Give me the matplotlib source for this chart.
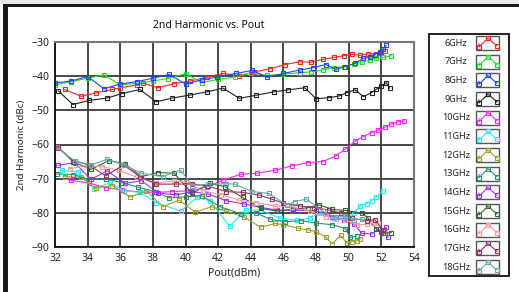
import matplotlib
matplotlib.use("Agg")
import matplotlib.pyplot as plt
from matplotlib.patches import Rectangle
from matplotlib.lines import Line2D

plt.rcParams['font.family'] = ['Noto Sans', 'DejaVu Sans']

labels = ["6GHz", "7GHz", "8GHz", "9GHz", "10GHz", "11GHz", "12GHz",
          "13GHz", "14GHz", "15GHz", "16GHz", "17GHz", "18GHz"]
colors = ["#ff2020", "#22dd22", "#2244ff", "#222222", "#ff22ff", "#22eeff",
          "#a0a030", "#22996a", "#9933ff", "#336633", "#ff9999", "#993366", "#66aaaa"]

x6 = [32.6, 33.6, 34.5, 35.5, 36.0, 37.0, 37.4, 38.3, 39.3, 40.3, 41.3, 42.3, 43.3, 44.2,
      45.2, 46.1, 47.0, 47.7, 48.4, 49.1, 49.7, 50.2, 50.7, 51.2, 51.7, 52.0, 52.2]
y6 = [-43.9, -45.9, -44.9, -43.9, -43.4, -42.6, -42.0, -43.4, -42.2, -41.4, -40.3, -39.2, -39.9,
      -38.8, -37.8, -36.6, -35.8, -35.9, -35.1, -34.5, -34.0, -33.6, -33.9, -33.5, -33.4, -33.1, -32.7]
x7 = [32.0, 33.0, 34.0, 35.0, 36.0, 37.0, 38.0, 38.9, 40.0, 41.0, 42.0, 43.0, 44.0, 45.0, 46.0,
      47.0, 47.7, 48.4, 49.1, 49.7, 50.3, 50.8, 51.3, 51.7, 52.1, 52.6]
y7 = [-42.6, -41.6, -40.6, -39.6, -42.6, -42.1, -41.4, -40.7, -39.3, -41.9, -40.9, -40.3, -39.0,
      -39.8, -39.4, -39.0, -38.7, -38.2, -37.5, -37.2, -36.4, -35.9, -35.3, -34.7, -34.5, -34.0]
x8 = [32.0, 33.0, 34.0, 35.0, 36.0, 37.0, 38.0, 39.0, 40.0, 41.0, 41.9, 43.1, 44.1, 45.0, 46.0,
      47.0, 47.8, 48.6, 49.2, 49.8, 50.4, 50.9, 51.3, 51.6, 51.9, 52.1, 52.3]
y8 = [-42.0, -41.4, -40.1, -43.7, -42.3, -41.6, -40.6, -39.5, -42.3, -41.1, -40.3, -39.2, -38.3,
      -40.3, -39.2, -38.2, -37.5, -36.6, -38.0, -37.2, -36.2, -34.8, -34.5, -33.7, -32.8, -32.1, -31.0]
x9 = [32.2, 33.1, 34.1, 35.2, 36.1, 37.2, 38.2, 39.2, 40.3, 41.3, 42.3, 43.3, 44.3, 45.4, 46.3,
      47.3, 48.0, 48.8, 49.4, 49.9, 50.4, 50.9, 51.4, 51.7, 52.0, 52.3, 52.5]
y9 = [-44.3, -48.3, -47.1, -46.4, -45.1, -43.9, -47.5, -46.4, -45.5, -44.6, -43.5, -46.5, -45.6,
      -44.6, -44.0, -43.4, -46.6, -46.3, -45.8, -44.8, -44.0, -46.0, -44.8, -43.8, -42.9, -41.9, -43.5]
x10 = [33.0, 34.1, 35.1, 36.1, 37.2, 38.2, 39.2, 40.3, 41.3, 42.3, 43.4, 44.4, 45.5, 46.5,
       47.5, 48.4, 49.2, 49.8, 50.4, 50.9, 51.4, 51.8, 52.2, 52.6, 53.0, 53.4]
y10 = [-70.5, -71.3, -72.6, -73.3, -73.9, -74.0, -73.8, -73.5, -72.3, -70.4, -68.7, -68.4, -67.5,
       -66.3, -65.3, -65.0, -63.4, -61.3, -59.0, -57.7, -56.5, -55.8, -55.0, -54.0, -53.4, -53.1]
x11 = [32.4, 33.4, 34.4, 35.4, 36.2, 37.2, 38.2, 39.7, 40.7, 41.5, 42.7, 43.7, 44.6, 45.8, 46.8,
       47.6, 48.2, 49.1, 49.8, 50.3, 50.7, 51.1, 51.4, 51.7, 52.1]
y11 = [-67.6, -68.0, -73.0, -71.1, -73.5, -74.0, -77.0, -79.5, -75.5, -76.5, -83.9, -79.2, -79.2,
       -81.6, -82.1, -81.6, -80.1, -81.6, -81.9, -80.1, -78.0, -77.4, -76.4, -75.3, -73.6]
x12 = [32.6, 33.6, 34.5, 35.5, 36.6, 37.6, 38.6, 39.6, 40.6, 41.6, 42.5, 43.6, 44.6, 45.5, 46.0,
       46.9, 47.5, 48.0, 48.6, 49.0, 49.5, 49.9, 50.2, 50.5, 50.7]
y12 = [-69.4, -69.6, -72.8, -72.0, -75.4, -73.5, -78.2, -76.3, -79.8, -78.2, -79.5, -81.3, -84.2,
       -83.1, -83.5, -84.5, -85.0, -85.5, -87.2, -89.1, -86.6, -88.9, -88.4, -88.2, -87.7]
x13 = [32.1, 33.1, 34.1, 35.1, 36.1, 37.1, 38.1, 39.0, 40.0, 41.0, 42.1, 43.4, 44.3, 45.2, 46.1,
       47.1, 48.0, 49.0, 49.8, 50.1, 50.5]
y13 = [-68.6, -68.8, -70.2, -70.0, -71.2, -72.5, -73.8, -75.6, -75.3, -75.0, -78.2, -80.3, -80.0,
       -81.9, -82.6, -82.3, -83.0, -83.5, -84.6, -87.2, -86.8]
x14 = [32.2, 33.2, 34.2, 35.2, 36.3, 37.3, 38.3, 39.4, 40.4, 41.4, 42.5, 43.6, 44.6, 45.6, 46.6,
       48.0, 49.0, 49.7, 50.3, 50.8, 51.4, 51.8, 52.0, 52.3, 52.4]
y14 = [-66.1, -65.3, -70.2, -67.7, -71.4, -70.6, -74.1, -74.8, -73.8, -74.5, -76.5, -77.4, -78.4,
       -79.2, -79.2, -79.5, -81.1, -82.0, -83.3, -86.0, -86.2, -84.8, -85.5, -84.2, -87.2]
x15 = [32.2, 33.1, 34.2, 35.3, 36.3, 37.3, 38.3, 39.3, 40.4, 41.5, 42.4, 43.5, 44.6, 45.6, 46.6,
       47.5, 48.2, 49.0, 49.8, 50.8, 51.2, 51.7, 52.1, 52.6]
y15 = [-60.8, -65.0, -67.3, -64.7, -65.7, -69.4, -68.2, -68.4, -74.3, -71.4, -72.3, -75.5, -78.7,
       -79.5, -79.0, -78.5, -77.7, -79.0, -79.3, -80.1, -81.6, -84.8, -86.0, -85.8]
x16 = [32.9, 34.0, 34.9, 35.9, 37.0, 38.2, 39.3, 40.0, 41.1, 42.2, 43.3, 44.3, 45.5, 46.5, 47.6,
       48.6, 49.2, 49.8, 50.5, 51.1, 51.5, 51.8]
y16 = [-67.1, -66.1, -66.5, -67.5, -69.6, -71.3, -70.7, -71.0, -73.6, -74.7, -76.3, -77.0, -78.0,
       -78.2, -79.5, -81.1, -81.8, -82.0, -83.6, -83.3, -83.0, -82.9]
x17 = [32.2, 33.1, 34.1, 35.1, 36.2, 37.2, 38.2, 39.4, 40.4, 41.4, 42.5, 43.5, 44.5, 45.3, 46.0,
       47.0, 47.9, 48.8, 49.5, 50.2, 51.1, 51.6, 52.1]
y17 = [-61.0, -64.7, -66.0, -69.2, -66.0, -69.4, -71.6, -71.6, -71.5, -72.2, -73.8, -74.0, -74.8,
       -76.0, -77.2, -78.0, -78.5, -79.2, -80.0, -81.6, -82.3, -82.0, -85.0]
x18 = [32.1, 33.2, 34.2, 35.2, 36.2, 37.3, 38.6, 39.7, 40.4, 41.4, 42.5, 43.0, 44.1, 45.1, 46.2,
       46.7, 47.4, 48.4, 49.2, 49.8, 50.3, 50.8]
y18 = [-60.8, -64.8, -66.0, -64.3, -66.0, -68.4, -69.4, -67.5, -72.0, -71.6, -71.5, -71.6, -73.8,
       -74.3, -77.7, -76.7, -76.0, -79.5, -81.3, -81.0, -82.1, -81.8]

series_x = [x6, x7, x8, x9, x10, x11, x12, x13, x14, x15, x16, x17, x18]
series_y = [y6, y7, y8, y9, y10, y11, y12, y13, y14, y15, y16, y17, y18]

xticks = [32, 34, 36, 38, 40, 42, 44, 46, 48, 50, 52, 54]
yticks = [-90, -80, -70, -60, -50, -40, -30]

W, H = 519, 292
fig = plt.figure(figsize=(W / 100, H / 100), dpi=100)
fig.patch.set_facecolor("white")

ax = fig.add_axes([55 / W, 1 - 247 / H, (414 - 55) / W, (247 - 42) / H])
for xs, ys, c in zip(series_x, series_y, colors):
    ax.plot(xs, ys, color=c, lw=0.8, marker="s", ms=2.8, mfc="none", mec=c, mew=0.8)

ax.set_xlim(32, 54)
ax.set_ylim(-90, -30)
ax.set_xticks(xticks)
ax.set_yticks(yticks)
ax.grid(True, color="#3a3a3a", lw=1.3)
ax.set_axisbelow(True)
ax.tick_params(length=0, labelsize=7.5, pad=4, colors="#222222")
for s in ["left", "bottom"]:
    ax.spines[s].set_color("#111111")
    ax.spines[s].set_linewidth(1.3)
for s in ["top", "right"]:
    ax.spines[s].set_color("#777777")
    ax.spines[s].set_linewidth(1.5)

ax.set_xlabel("Pout(dBm)", fontsize=7.5, labelpad=3, color="#222222")
ax.set_ylabel("2nd Harmonic (dBc)", fontsize=7, labelpad=4, color="#222222")
fig.text(209 / W, 1 - 26 / H, "2nd Harmonic vs. Pout", ha="center", va="center",
         fontsize=7.5, fontweight="bold", color="#111111")

# overlay for frame and legend (pixel coordinates)
ov = fig.add_axes([0, 0, 1, 1], zorder=5)
ov.set_xlim(0, W)
ov.set_ylim(H, 0)
ov.axis("off")
ov.patch.set_alpha(0)
ov.add_patch(Rectangle((0, 0), W, 4, facecolor="#e8e8e8", edgecolor="none"))
ov.add_patch(Rectangle((3, 4), W - 3, 3, facecolor="#1a1a1a", edgecolor="none"))
ov.add_patch(Rectangle((3, 4), 5, H - 4, facecolor="#1a1a1a", edgecolor="none"))

ov.add_patch(Rectangle((429, 34), 80, 242, facecolor="white", edgecolor="#111111", lw=1.3))
for i, (lab, c) in enumerate(zip(labels, colors)):
    yc = 43 + i * 18.67
    ov.text(456, yc, lab, ha="center", va="center", fontsize=6.5, color="#222222")
    ov.add_patch(Rectangle((476, yc - 7), 23, 14, facecolor="white", edgecolor="#555555", lw=1.0))
    ov.add_line(Line2D([479, 479, 488, 497], [yc + 1, yc + 4, yc - 5, yc + 3], color=c, lw=0.8))
    ov.add_line(Line2D([479, 488, 497], [yc + 4, yc - 5, yc + 3], color=c, lw=0,
                       marker="s", ms=2.4, mfc="none", mec=c, mew=0.8))

fig.savefig("out.png", dpi=100)
